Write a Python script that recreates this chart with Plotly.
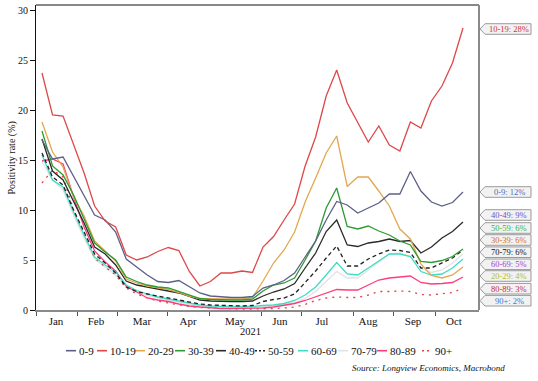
import plotly.graph_objects as go
import pandas as pd

# ---------------- data ----------------
weeks = pd.date_range("2021-01-04", periods=41, freq="7D")

age_groups = ["0-9", "10-19", "20-29", "30-39", "40-49",
              "50-59", "60-69", "70-79", "80-89", "90+"]

s0_9 = [17.0, 15.1, 15.3, 13.4, 11.5, 9.5, 9.0, 7.8, 5.1, 4.3, 3.5, 2.85, 2.75, 2.95, 2.3, 1.7, 1.4, 1.3,
        1.25, 1.25, 1.35, 2.2, 2.5, 2.95, 3.7, 5.3, 6.9, 9.0, 10.85, 10.5, 9.7, 10.2, 10.7, 11.6, 11.6,
        13.85, 11.9, 10.8, 10.4, 10.75, 11.8]
s10_19 = [23.7, 19.5, 19.4, 16.5, 13.7, 10.4, 8.9, 8.3, 5.5, 5.0, 5.3, 5.85, 6.25, 5.95, 3.85, 2.4, 2.85,
          3.7, 3.7, 3.9, 3.75, 6.3, 7.35, 9.0, 10.6, 14.4, 17.3, 21.4, 24.0, 20.7, 18.7, 16.8, 18.4, 16.5,
          15.9, 18.8, 18.2, 20.9, 22.4, 24.7, 28.2]
s20_29 = [18.8, 15.8, 14.3, 11.3, 9.4, 6.9, 5.9, 4.9, 3.1, 2.7, 2.4, 2.2, 2.05, 1.75, 1.4, 1.15, 1.1, 1.1,
          1.1, 1.1, 1.25, 2.9, 4.7, 6.0, 7.8, 10.8, 13.2, 15.7, 17.4, 12.35, 13.3, 13.3, 11.9, 10.4, 8.1,
          7.1, 4.6, 3.45, 3.2, 3.5, 4.3]
s30_39 = [17.9, 14.4, 13.5, 11.5, 9.1, 6.7, 5.8, 5.0, 3.3, 2.85, 2.5, 2.3, 2.2, 1.85, 1.5, 1.15, 1.05, 1.0,
          1.0, 1.0, 1.1, 1.9, 2.5, 2.7, 3.2, 5.0, 6.9, 10.2, 12.2, 8.35, 8.1, 8.4, 7.9, 7.5, 6.9, 6.5,
          4.85, 4.75, 4.95, 5.35, 6.1]
s40_49 = [17.1, 13.9, 13.0, 10.9, 8.7, 6.3, 5.6, 4.5, 2.9, 2.5, 2.3, 2.1, 1.95, 1.7, 1.35, 1.0, 0.9, 0.85,
          0.85, 0.85, 0.9, 1.4, 1.8, 2.1, 2.65, 4.2, 5.7, 7.85, 9.0, 6.5, 6.35, 6.7, 6.85, 7.1, 6.85, 6.95,
          5.7, 6.3, 7.2, 7.85, 8.8]
s50_59 = [15.7, 13.3, 12.5, 10.0, 7.8, 5.6, 4.7, 3.7, 2.3, 1.85, 1.6, 1.4, 1.2, 1.0, 0.8, 0.6, 0.5, 0.45,
          0.4, 0.4, 0.45, 0.85, 1.05, 1.2, 1.6, 2.7, 3.9, 5.2, 6.4, 4.4, 4.4, 5.1, 5.6, 6.0, 5.95, 5.75,
          4.2, 4.2, 4.7, 5.2, 6.0]
s60_69 = [15.5, 13.0, 12.3, 9.8, 7.5, 5.3, 4.5, 3.8, 2.5, 1.95, 1.6, 1.3, 1.1, 0.9, 0.65, 0.5, 0.4, 0.35,
          0.35, 0.35, 0.35, 0.45, 0.5, 0.65, 0.95, 1.5, 2.3, 3.5, 4.75, 3.6, 3.5, 4.2, 4.9, 5.6, 5.6, 5.35,
          3.85, 3.5, 3.6, 4.2, 5.1]
s70_79 = [14.8, 13.0, 12.0, 9.5, 7.2, 5.1, 4.3, 3.5, 2.3, 1.8, 1.45, 1.2, 1.0, 0.8, 0.55, 0.4, 0.3, 0.3,
          0.25, 0.25, 0.25, 0.35, 0.4, 0.55, 0.75, 1.15, 1.85, 2.85, 3.85, 3.2, 3.2, 4.0, 4.8, 5.6, 5.7,
          5.35, 4.2, 3.75, 4.0, 4.7, 5.6]
s80_89 = [14.9, 15.1, 14.6, 11.3, 8.3, 5.9, 4.8, 3.9, 2.4, 1.8, 1.2, 1.0, 0.85, 0.6, 0.4, 0.3, 0.2, 0.15,
          0.15, 0.15, 0.15, 0.2, 0.3, 0.45, 0.65, 0.95, 1.3, 1.65, 2.05, 2.0, 2.0, 2.5, 3.0, 3.2, 3.3, 3.4,
          2.75, 2.6, 2.65, 2.75, 3.3]
s90 = [12.7, 14.0, 13.3, 10.0, 7.5, 5.2, 4.3, 3.5, 2.2, 1.6, 1.2, 0.9, 0.7, 0.5, 0.35, 0.25, 0.2, 0.15,
       0.1, 0.1, 0.1, 0.1, 0.15, 0.2, 0.3, 0.55, 0.95, 1.2, 1.3, 1.25, 1.25, 1.5, 1.85, 1.85, 1.9, 1.85,
       1.55, 1.5, 1.6, 1.75, 2.2]

month_labels = ["Jan", "Feb", "Mar", "Apr", "May", "Jun", "Jul", "Aug", "Sep", "Oct"]
y_ticks = [0, 5, 10, 15, 20, 25, 30]

# ---------------- styling / layout ----------------
values = {"0-9": s0_9, "10-19": s10_19, "20-29": s20_29, "30-39": s30_39, "40-49": s40_49,
          "50-59": s50_59, "60-69": s60_69, "70-79": s70_79, "80-89": s80_89, "90+": s90}
colors = {"0-9": "#5d6086", "10-19": "#dd4848", "20-29": "#e2a84e", "30-39": "#2d9b32",
          "40-49": "#2a2a2a", "50-59": "#222222", "60-69": "#3fdcc4", "70-79": "#e2e2e2",
          "80-89": "#ff3c7a", "90+": "#e04444"}
dashes = {"50-59": "4px,3px", "90+": "2px,5px"}
label_colors = {"0-9": "#4b6dbf", "10-19": "#d03535", "20-29": "#b3bd25", "30-39": "#d4701e",
                "40-49": "#6a4fd0", "50-59": "#36b24a", "60-69": "#a03fd0", "70-79": "#111111",
                "80-89": "#c8283c", "90+": "#3a78d8"}
label_order = ["10-19", "0-9", "40-49", "50-59", "30-39", "70-79", "60-69", "20-29", "80-89", "90+"]
label_y = [28.1, 11.8, 9.5, 8.2, 7.0, 5.78, 4.57, 3.4, 2.13, 0.93]

FW, FH = 538, 381
L, R, T, B = 36, 479, 5, 310
YMAX = 30.5
FONT = "Liberation Serif"


def wk(f):
    return weeks[0] + pd.Timedelta(days=7 * f)


def pxx(px):
    return (px - L) / (R - L)


def pxy(py):
    return (B - py) / (B - T)


def val_py(v):
    return B - v * (B - T) / YMAX


label_pos = [1.33, 5.13, 9.5, 13.87, 18.34, 22.61, 26.6, 30.97, 35.25, 39.14]
minor_pos = [-0.57, 3.33, 7.13, 11.97, 15.87, 20.81, 24.7, 29.55, 33.35, 37.34]

fig = go.Figure()
draw_order = ["70-79", "90+", "80-89", "60-69", "50-59", "40-49", "20-29", "30-39", "0-9", "10-19"]
for g in draw_order:
    fig.add_trace(go.Scatter(
        x=weeks, y=values[g], mode="lines", name=g, showlegend=False,
        line=dict(color=colors[g], width=1.3, dash=dashes.get(g, "solid")),
    ))

shapes = []
annotations = []

# frame: top and right borders
shapes.append(dict(type="line", xref="paper", yref="paper", x0=0, x1=1, y0=1, y1=1,
                   line=dict(color="#111", width=1)))
shapes.append(dict(type="line", xref="paper", yref="paper", x0=1, x1=1, y0=0, y1=1,
                   line=dict(color="#8a8a8a", width=2)))

# right-side end labels
for g, yv in zip(label_order, label_y):
    yc = val_py(yv)
    bx0, bx1, tip = 485, 531, 480
    h = 5.3
    path = (f"M {pxx(tip)},{pxy(yc)} L {pxx(bx0)},{pxy(yc - h)} L {pxx(bx1)},{pxy(yc - h)} "
            f"L {pxx(bx1)},{pxy(yc + h)} L {pxx(bx0)},{pxy(yc + h)} Z")
    shapes.append(dict(type="path", xref="paper", yref="paper", path=path,
                       fillcolor="#f2f2f2", line=dict(color="#9a9a9a", width=1)))
    annotations.append(dict(
        x=pxx((bx0 + bx1) / 2 + 1), y=pxy(yc), xref="paper", yref="paper",
        text=f"{g}: {round(values[g][-1])}%", showarrow=False,
        font=dict(family=FONT, size=8.5, color=label_colors[g]),
        xanchor="center", yanchor="middle"))

# custom legend
leg_sym_x = [66, 97, 135, 175, 216, 255, 298, 338, 377, 422]
leg_y = 350.7
for g, sx in zip(age_groups, leg_sym_x):
    shapes.append(dict(type="line", xref="paper", yref="paper",
                       x0=pxx(sx), x1=pxx(sx + 10), y0=pxy(leg_y), y1=pxy(leg_y),
                       line=dict(color=colors[g], width=1.6,
                                 dash=("2px,2px" if g == "50-59" else ("2px,3px" if g == "90+" else "solid")))))
    annotations.append(dict(x=pxx(sx + 11), y=pxy(leg_y), xref="paper", yref="paper",
                            text=g, showarrow=False, xanchor="left", yanchor="middle",
                            font=dict(family=FONT, size=11, color="#111")))

# y-axis title
annotations.append(dict(x=pxx(11.5), y=pxy(158), xref="paper", yref="paper",
                        text="Positivity rate (%)", textangle=-90, showarrow=False,
                        font=dict(family=FONT, size=10, color="#111"),
                        xanchor="center", yanchor="middle"))
# x-axis year title
annotations.append(dict(x=pxx(250.5), y=pxy(331.5), xref="paper", yref="paper",
                        text="2021", showarrow=False,
                        font=dict(family=FONT, size=10.5, color="#111"),
                        xanchor="center", yanchor="middle"))
# source
annotations.append(dict(x=pxx(507), y=pxy(368), xref="paper", yref="paper",
                        text="<i>Source: Longview Economics, Macrobond</i>", showarrow=False,
                        font=dict(family=FONT, size=9, color="#111"),
                        xanchor="right", yanchor="middle"))

fig.update_layout(
    width=FW, height=FH,
    margin=dict(l=L, r=FW - R, t=T, b=FH - B, autoexpand=False),
    paper_bgcolor="white", plot_bgcolor="white",
    font=dict(family=FONT, size=10, color="#111"),
    shapes=shapes, annotations=annotations,
    xaxis=dict(
        type="date", range=[wk(-0.57), wk(41.52)],
        tickmode="array", tickvals=[wk(p) for p in label_pos], ticktext=month_labels,
        ticks="", showgrid=False, zeroline=False,
        showline=True, linecolor="#8a8a8a", linewidth=2,
        tickfont=dict(family=FONT, size=11, color="#111"),
        minor=dict(tickmode="array", tickvals=[wk(p) for p in minor_pos], ticks="outside",
                   ticklen=4, tickcolor="#555", tickwidth=1, showgrid=False),
    ),
    yaxis=dict(
        range=[0, YMAX], tickmode="array", tickvals=y_ticks,
        ticks="outside", ticklen=5, tickcolor="#111", tickwidth=1,
        showgrid=False, zeroline=False,
        showline=True, linecolor="#111", linewidth=1,
        tickfont=dict(family=FONT, size=10, color="#111"),
    ),
)

fig.write_html("out.html", config={"displayModeBar": False},
               post_script="document.body.style.margin='0px';")
